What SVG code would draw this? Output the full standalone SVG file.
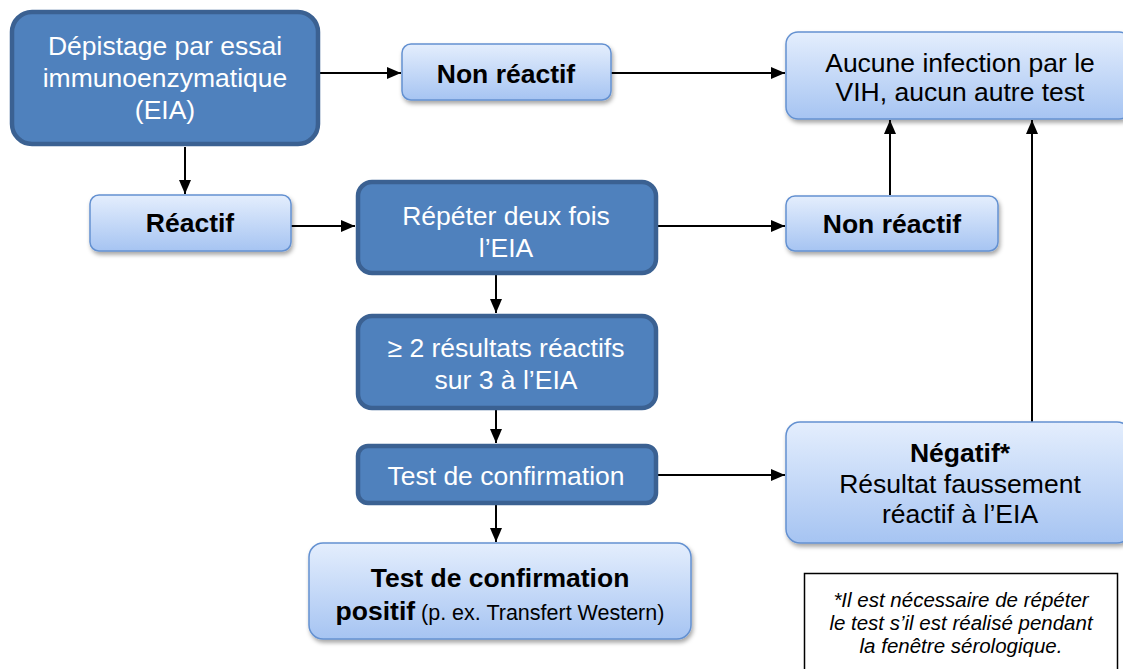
<svg xmlns="http://www.w3.org/2000/svg" width="1123" height="669" viewBox="0 0 1123 669">
<defs>
<linearGradient id="lg" x1="0" y1="0" x2="0" y2="1">
<stop offset="0" stop-color="#E4EEFD"/>
<stop offset="1" stop-color="#A6C4F2"/>
</linearGradient>
<filter id="sh" x="-10%" y="-10%" width="130%" height="140%">
<feDropShadow dx="1.5" dy="3" stdDeviation="2" flood-color="#000" flood-opacity="0.35"/>
</filter>
<marker id="ah" viewBox="0 0 14 12" refX="14" refY="6" markerWidth="14" markerHeight="12" markerUnits="userSpaceOnUse" orient="auto">
<path d="M0,0 L14,6 L0,12 Z" fill="#000"/>
</marker>
</defs>
<style>
.dark{fill:#4F81BD;stroke:#3B6192;stroke-width:4.5}
.light{fill:url(#lg);stroke:#6491D1;stroke-width:1.5;filter:url(#sh)}
.t{font-family:"Liberation Sans",Arial,sans-serif;font-size:26.5px;text-anchor:middle}
.w{fill:#fff}
.k{fill:#000}
.b{font-weight:bold}
.c line{stroke:#000;stroke-width:2;marker-end:url(#ah)}
.fn{font-family:"Liberation Sans",Arial,sans-serif;font-size:20.5px;font-style:italic;text-anchor:middle;fill:#000}
</style>
<rect width="1123" height="669" fill="#fff"/>
<g class="c" id="connectors">
<line x1="320" y1="73" x2="401" y2="73"/>
<line x1="611" y1="73" x2="785" y2="73"/>
<line x1="185" y1="147" x2="185" y2="194"/>
<line x1="291" y1="226" x2="355" y2="226"/>
<line x1="658" y1="226" x2="785" y2="226"/>
<line x1="890" y1="195" x2="890" y2="120"/>
<line x1="1032" y1="422" x2="1032" y2="120"/>
<line x1="496" y1="275" x2="496" y2="313"/>
<line x1="496" y1="410" x2="496" y2="443"/>
<line x1="658" y1="475" x2="785" y2="475"/>
<line x1="496" y1="505" x2="496" y2="542"/>
</g>
<g id="n1">
<rect class="dark" x="12" y="12" width="306" height="132" rx="20"/>
<text class="t w" x="165" y="55">Dépistage par essai</text>
<text class="t w" x="165" y="87">immunoenzymatique</text>
<text class="t w" x="165" y="119">(EIA)</text>
</g>
<g id="n2">
<rect class="light" x="402" y="44" width="209" height="56" rx="9"/>
<text class="t k b" x="506" y="83">Non réactif</text>
</g>
<g id="n3">
<rect class="light" x="786" y="32" width="345" height="87" rx="12"/>
<text class="t k" x="960" y="72">Aucune infection par le</text>
<text class="t k" x="960" y="101">VIH, aucun autre test</text>
</g>
<g id="n4">
<rect class="light" x="90" y="195" width="201" height="56" rx="9"/>
<text class="t k b" x="190" y="232">Réactif</text>
</g>
<g id="n5">
<rect class="dark" x="358" y="182" width="298" height="91" rx="14"/>
<text class="t w" x="506" y="225">Répéter deux fois</text>
<text class="t w" x="506" y="257">l’EIA</text>
</g>
<g id="n6">
<rect class="light" x="786" y="196" width="212" height="55" rx="9"/>
<text class="t k b" x="892" y="233">Non réactif</text>
</g>
<g id="n7">
<rect class="dark" x="358" y="316" width="298" height="92" rx="14"/>
<text class="t w" x="506" y="357">≥ 2 résultats réactifs</text>
<text class="t w" x="506" y="389">sur 3 à l’EIA</text>
</g>
<g id="n8">
<rect class="dark" x="358" y="446" width="298" height="57" rx="10"/>
<text class="t w" x="506" y="485">Test de confirmation</text>
</g>
<g id="n9">
<rect class="light" x="786" y="422" width="345" height="121" rx="14"/>
<text class="t k b" x="960" y="462">Négatif*</text>
<text class="t k" x="960" y="493">Résultat faussement</text>
<text class="t k" x="960" y="523">réactif à l’EIA</text>
</g>
<g id="n10">
<rect class="light" x="309" y="543" width="382" height="96" rx="14"/>
<text class="t k b" x="500" y="587">Test de confirmation</text>
<text class="t k" x="500" y="620"><tspan class="b">positif</tspan><tspan font-size="21.5"> (p. ex. Transfert Western)</tspan></text>
</g>
<g id="note">
<rect x="804.5" y="573.5" width="313" height="100" fill="#fff" stroke="#000" stroke-width="1.5"/>
<text class="fn" x="961" y="607">*Il est nécessaire de répéter</text>
<text class="fn" x="961" y="630">le test s’il est réalisé pendant</text>
<text class="fn" x="961" y="653">la fenêtre sérologique.</text>
</g>
</svg>
